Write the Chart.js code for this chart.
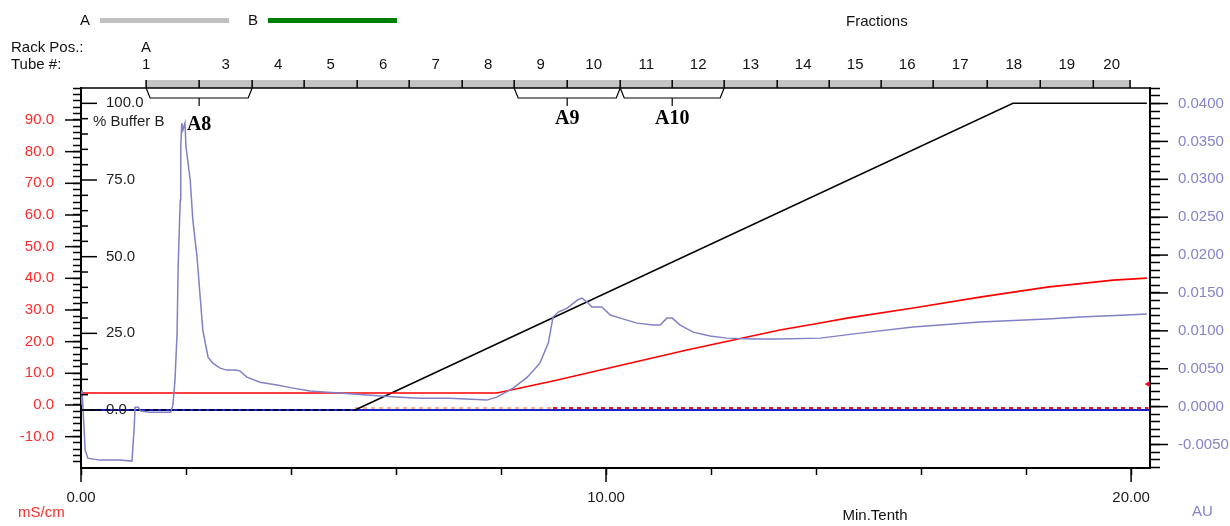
<!DOCTYPE html>
<html>
<head>
<meta charset="utf-8">
<script src="https://cdn.jsdelivr.net/npm/chart.js@4.4.1/dist/chart.umd.min.js"></script>
<style>
  html, body { margin: 0; padding: 0; background: #fff; }
  #wrap { width: 1230px; height: 526px; }
</style>
</head>
<body>
<div id="wrap"><canvas id="chrom" width="1230" height="526"></canvas></div>
<script>
// UV absorbance (AU) vs run time (min)
const uvTime = [0.00, 0.02, 0.04, 0.08, 0.13, 0.36, 0.74, 0.97, 1.01, 1.03, 1.09, 1.14, 1.31, 1.71,
  1.75, 1.79, 1.83, 1.85, 1.89, 1.90, 1.92, 1.94, 1.98, 2.00, 2.08, 2.13, 2.21, 2.27, 2.32, 2.42,
  2.51, 2.65, 2.78, 2.95, 3.03, 3.16, 3.41, 3.73, 4.04, 4.36, 4.69, 4.99, 5.45, 6.08, 6.46, 7.03,
  7.73, 7.92, 8.23, 8.50, 8.74, 8.90, 8.99, 9.09, 9.26, 9.45, 9.54, 9.64, 9.73, 9.92, 10.08, 10.27,
  10.59, 10.90, 11.03, 11.16, 11.26, 11.41, 11.66, 11.98, 12.30, 12.80, 13.26, 14.08, 14.84, 15.85,
  17.12, 18.40, 19.03, 19.92, 20.30];
const uvAbs = [0.00020, 0.00218, -0.00046, -0.00574, -0.00680, -0.00706, -0.00706, -0.00719, -0.00310,
  -0.00007, -0.00007, -0.00059, -0.00073, -0.00073,
  0.00020, 0.00350, 0.00970, 0.01842, 0.02726, 0.03426, 0.03743, 0.03650, 0.03743, 0.03426, 0.02990,
  0.02462, 0.01974, 0.01446, 0.01010, 0.00653,
  0.00574, 0.00508, 0.00482, 0.00482, 0.00469, 0.00389, 0.00323, 0.00284, 0.00244, 0.00205, 0.00191,
  0.00178, 0.00152, 0.00125, 0.00112, 0.00112,
  0.00086, 0.00125, 0.00244, 0.00389, 0.00574, 0.00838, 0.01182, 0.01248, 0.01300, 0.01406, 0.01432,
  0.01380, 0.01314, 0.01314, 0.01208, 0.01168,
  0.01102, 0.01076, 0.01076, 0.01168, 0.01168, 0.01076, 0.00983, 0.00931, 0.00904, 0.00891, 0.00891,
  0.00904, 0.00970, 0.01050,
  0.01116, 0.01155, 0.01182, 0.01208, 0.01221];

// conductivity (mS/cm)
const condTime = [0, 7.92, 8.99, 11.54, 13.31, 14.08, 14.59, 15.85, 17.12, 18.40, 19.66, 20.30];
const condValue = [3.79, 3.79, 7.57, 17.35, 23.66, 25.87, 27.44, 30.60, 34.07, 37.22, 39.43, 40.06];
const condNowTime = [20.33];
const condNowValue = [6.6];

// gradient (% Buffer B)
const gradTime = [0, 5.22, 17.75, 20.30];
const gradValue = [0, 0, 100, 100];

// flat system traces along the baseline
const baseTime = [0, 20.36];
const baseValue = [-1.6, -1.6];
const auxTime = [5.22, 8.99, 20.33];
const auxValue = [-0.95, -0.95, -0.95];

// axis ticks
const timeTicks = [0, 2, 4, 6, 8, 10, 12, 14, 16, 18, 20];
const timeLabels = [0, 10, 20];
const condLabels = [-10, 0, 10, 20, 30, 40, 50, 60, 70, 80, 90];
const bufferLabels = [0, 25, 50, 75, 100];
const auLabels = [-0.005, 0, 0.005, 0.01, 0.015, 0.02, 0.025, 0.03, 0.035, 0.04];

// fraction collector
const tubeEdges = [1.24, 2.25, 3.26, 4.25, 5.26, 6.25, 7.26, 8.25, 9.26, 10.27, 11.26, 12.25, 13.26,
  14.25, 15.24, 16.23, 17.26, 18.27, 19.28, 19.98];
const tubeNames = ['1', '3', '4', '5', '6', '7', '8', '9', '10', '11', '12', '13', '14', '15', '16',
  '17', '18', '19', '20'];
const poolNames = ['A8', 'A9', 'A10'];
const poolStart = [1.24, 8.25, 10.27];
const poolEnd = [3.26, 10.27, 12.25];

const FONT = "'Liberation Sans', Arial, sans-serif";
const RED = '#ff2a2a';
const LAV = '#8484c8';

const pts = (xs, ys) => xs.map((x, i) => ({ x, y: ys[i] }));
const range = (a, b, step) => {
  const out = [];
  for (let v = a; v <= b + 1e-9; v += step) out.push(Math.round(v / step) * step);
  return out;
};
const near = (list, v) => list.some(m => Math.abs(m - v) < 1e-7);

function seg(ctx, x1, y1, x2, y2) {
  ctx.beginPath();
  ctx.moveTo(x1, y1);
  ctx.lineTo(x2, y2);
  ctx.stroke();
}

// everything around the plot that is not a library axis
const decor = {
  id: 'decor',
  afterDraw(chart) {
    const { ctx, chartArea: ca, scales } = chart;
    const xs = scales.x, cond = scales.cond, buf = scales.buffer, au = scales.au;
    ctx.save();
    ctx.strokeStyle = '#000';
    ctx.lineWidth = 1.5;

    // longer major ticks
    condLabels.forEach(v => { const y = cond.getPixelForValue(v); seg(ctx, ca.left - 16, y, ca.left, y); });
    auLabels.forEach(v => { const y = au.getPixelForValue(v); seg(ctx, ca.right, y, ca.right + 18, y); });
    timeLabels.forEach(v => { const x = xs.getPixelForValue(v); seg(ctx, x, ca.bottom, x, ca.bottom + 14); });

    // inner % Buffer B axis
    range(0, 100, 5).forEach(v => {
      const y = buf.getPixelForValue(v);
      seg(ctx, ca.left, y, ca.left + (near(bufferLabels, v) ? 16 : 7), y);
    });
    ctx.font = '15px ' + FONT;
    ctx.fillStyle = '#1e1e1e';
    ctx.textAlign = 'left';
    ctx.textBaseline = 'middle';
    bufferLabels.forEach(v => ctx.fillText(v.toFixed(1), ca.left + 25, buf.getPixelForValue(v)));
    ctx.fillText('% Buffer B', ca.left + 12, buf.getPixelForValue(94));

    // top border and fraction bar
    const barL = xs.getPixelForValue(tubeEdges[0]);
    const barR = xs.getPixelForValue(tubeEdges[tubeEdges.length - 1]);
    ctx.fillStyle = '#c4c4c4';
    ctx.fillRect(barL, ca.top - 8, barR - barL, 8);
    seg(ctx, ca.left, ca.top, ca.right, ca.top);
    tubeEdges.forEach(t => { const x = xs.getPixelForValue(t); seg(ctx, x, ca.top - 8, x, ca.top); });

    // tube numbers
    ctx.fillStyle = '#111';
    ctx.textAlign = 'center';
    tubeNames.forEach((n, i) => {
      const t = i === 0 ? tubeEdges[0] : (tubeEdges[i] + tubeEdges[i + 1]) / 2;
      ctx.fillText(n, xs.getPixelForValue(t), 65);
    });
    ctx.fillText('A', barL, 48);

    // pooled fraction brackets
    ctx.lineWidth = 1.2;
    poolNames.forEach((name, i) => {
      const a = xs.getPixelForValue(poolStart[i]);
      const b = xs.getPixelForValue(poolEnd[i]);
      const m = (a + b) / 2;
      ctx.beginPath();
      ctx.moveTo(a, ca.top);
      ctx.lineTo(a + 4, ca.top + 10);
      ctx.lineTo(b - 4, ca.top + 10);
      ctx.lineTo(b, ca.top);
      ctx.stroke();
      seg(ctx, m, ca.top + 10, m, ca.top + 18);
      ctx.font = "bold 20px 'Liberation Serif', 'Times New Roman', serif";
      ctx.fillStyle = '#000';
      ctx.fillText(name, m, i === 0 ? ca.top + 37 : ca.top + 31);
    });

    // header and axis titles
    ctx.font = '15px ' + FONT;
    ctx.textAlign = 'left';
    ctx.fillStyle = '#111';
    ctx.fillText('Rack Pos.:', 11, 48);
    ctx.fillText('Tube #:', 11, 65);
    ctx.fillText('Fractions', 846, 22);
    ctx.textAlign = 'center';
    ctx.fillText('A', 85, 21);
    ctx.fillText('B', 253, 21);
    ctx.fillText('Min.Tenth', 875, 516);
    ctx.lineWidth = 5;
    ctx.strokeStyle = '#c0c0c0';
    seg(ctx, 100, 20.5, 229, 20.5);
    ctx.strokeStyle = '#008000';
    seg(ctx, 268, 20.5, 397, 20.5);
    ctx.fillStyle = RED;
    ctx.textAlign = 'left';
    ctx.fillText('mS/cm', 18, 513);
    ctx.fillStyle = LAV;
    ctx.fillText('AU', 1192, 512);
    ctx.restore();
  }
};

const tickFont = { family: FONT, size: 15 };

new Chart(document.getElementById('chrom'), {
  type: 'line',
  data: {
    datasets: [
      {
        label: 'UV',
        data: pts(uvTime, uvAbs),
        yAxisID: 'au',
        borderColor: '#8080c6',
        borderWidth: 1.5,
        order: 1
      },
      {
        label: 'Conductivity',
        data: pts(condTime, condValue),
        yAxisID: 'cond',
        borderColor: '#ff0000',
        borderWidth: 1.6,
        order: 2
      },
      {
        label: 'Conc B',
        data: pts(gradTime, gradValue),
        yAxisID: 'buffer',
        borderColor: '#000',
        borderWidth: 1.5,
        segment: {
          borderDash: c => (c.p0.parsed.y === 0 && c.p1.parsed.y === 0 ? [5, 3] : undefined)
        },
        order: 3
      },
      {
        label: 'aux',
        data: pts(auxTime, auxValue),
        yAxisID: 'cond',
        borderColor: '#ff2020',
        borderWidth: 2,
        borderDash: [4, 4],
        segment: {
          borderColor: c => (c.p0.parsed.x < 8.9 ? '#f6b48c' : '#e81818')
        },
        order: 4
      },
      {
        label: 'baseline',
        data: pts(baseTime, baseValue),
        yAxisID: 'cond',
        borderColor: '#1e1ec8',
        borderWidth: 2,
        order: 5
      },
      {
        label: 'cond now',
        data: pts(condNowTime, condNowValue),
        yAxisID: 'cond',
        showLine: false,
        pointRadius: 3,
        pointStyle: 'triangle',
        rotation: -90,
        pointBackgroundColor: '#ff0000',
        pointBorderColor: '#ff0000',
        order: 0
      }
    ]
  },
  options: {
    responsive: false,
    animation: false,
    devicePixelRatio: 1,
    events: [],
    elements: { point: { radius: 0 }, line: { tension: 0 } },
    layout: { padding: { top: 88, left: 0, right: 0, bottom: 0 } },
    plugins: { legend: { display: false }, tooltip: { enabled: false } },
    scales: {
      x: {
        type: 'linear',
        position: 'bottom',
        min: 0,
        max: 20.36,
        afterFit: s => { s.height = 58; },
        afterBuildTicks: s => { s.ticks = timeTicks.map(v => ({ value: v })); },
        ticks: {
          autoSkip: false,
          maxRotation: 0,
          padding: 14,
          color: '#1a1a1a',
          font: tickFont,
          callback: v => (near(timeLabels, v) ? v.toFixed(2) : '')
        },
        grid: { drawOnChartArea: false, tickLength: 7, tickWidth: 1.5, tickColor: '#000' },
        border: { color: '#000', width: 2 }
      },
      cond: {
        type: 'linear',
        position: 'left',
        min: -19.9,
        max: 100.1,
        afterFit: s => { s.width = 81; },
        afterBuildTicks: s => { s.ticks = range(-18, 100, 2).map(v => ({ value: v })); },
        ticks: {
          autoSkip: false,
          padding: 19,
          color: RED,
          font: tickFont,
          callback: v => (near(condLabels, v) ? v.toFixed(1) : '')
        },
        grid: { drawOnChartArea: false, tickLength: 8, tickWidth: 1.5, tickColor: '#000' },
        border: { color: '#000', width: 2 }
      },
      buffer: {
        type: 'linear',
        display: false,
        min: -18.9,
        max: 105
      },
      au: {
        type: 'linear',
        position: 'right',
        min: -0.0081,
        max: 0.04205,
        afterFit: s => { s.width = 80; },
        afterBuildTicks: s => { s.ticks = range(-0.008, 0.042, 0.001).map(v => ({ value: v })); },
        ticks: {
          autoSkip: false,
          padding: 18,
          color: LAV,
          font: tickFont,
          callback: v => (near(auLabels, v) ? v.toFixed(4) : '')
        },
        grid: { drawOnChartArea: false, tickLength: 10, tickWidth: 1.5, tickColor: '#000' },
        border: { color: '#000', width: 2 }
      }
    }
  },
  plugins: [decor]
});
</script>
</body>
</html>
